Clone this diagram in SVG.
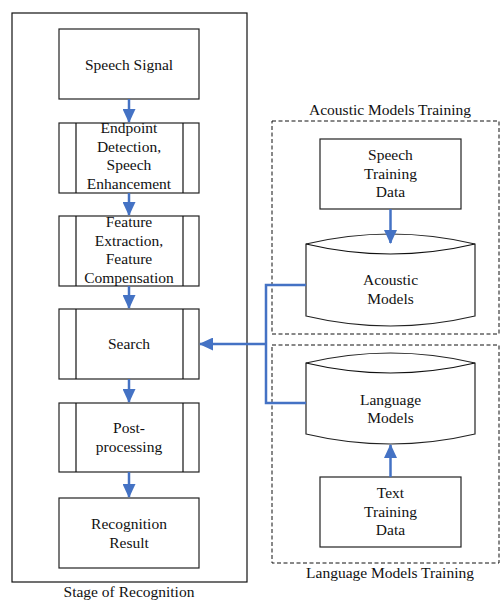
<svg xmlns="http://www.w3.org/2000/svg" width="501" height="600" viewBox="0 0 501 600" font-family="'Liberation Serif', 'DejaVu Serif', serif">
<defs>
<style>
text{font-family:'Liberation Serif','DejaVu Serif',serif;font-size:15.5px;fill:#111;text-anchor:middle}
.box{fill:#fff;stroke:#222;stroke-width:1.2}
.frame{fill:none;stroke:#111;stroke-width:1.2}
.dash{fill:none;stroke:#111;stroke-width:1;stroke-dasharray:4,2.5}
.conn{fill:none;stroke:#4472C4;stroke-width:2.5}
</style>
<marker id="ah" viewBox="0 0 14 13" refX="13" refY="6.5" markerWidth="14" markerHeight="13" markerUnits="userSpaceOnUse" orient="auto">
<path d="M0,0 L14,6.5 L0,13 Z" fill="#4472C4"/>
</marker>
</defs>
<rect x="0" y="0" width="501" height="600" fill="#fff"/>
<g id="stage">
<rect class="frame" x="12" y="13" width="235" height="569"/>
<text x="129" y="597">Stage of Recognition</text>
</g>
<g id="acoustic-training">
<rect class="dash" x="272" y="121" width="227" height="213"/>
<text x="390" y="115">Acoustic Models Training</text>
</g>
<g id="language-training">
<rect class="dash" x="272" y="345" width="227" height="218"/>
<text x="390" y="578">Language Models Training</text>
</g>
<g id="speech-signal">
<rect class="box" x="59" y="29" width="140" height="70"/>
<text x="129" y="70">Speech Signal</text>
</g>
<g id="endpoint">
<rect class="box" x="59" y="123" width="140" height="70"/>
<line class="frame" x1="76" y1="123" x2="76" y2="193"/>
<line class="frame" x1="183" y1="123" x2="183" y2="193"/>
<text x="129" y="133">Endpoint</text>
<text x="129" y="152">Detection,</text>
<text x="129" y="170">Speech</text>
<text x="129" y="189">Enhancement</text>
</g>
<g id="feature">
<rect class="box" x="59" y="216" width="140" height="70"/>
<line class="frame" x1="76" y1="216" x2="76" y2="286"/>
<line class="frame" x1="183" y1="216" x2="183" y2="286"/>
<text x="129" y="227">Feature</text>
<text x="129" y="246">Extraction,</text>
<text x="129" y="264">Feature</text>
<text x="129" y="283">Compensation</text>
</g>
<g id="search">
<rect class="box" x="59" y="309" width="140" height="70"/>
<line class="frame" x1="76" y1="309" x2="76" y2="379"/>
<line class="frame" x1="183" y1="309" x2="183" y2="379"/>
<text x="129" y="349">Search</text>
</g>
<g id="post">
<rect class="box" x="59" y="403" width="140" height="69"/>
<line class="frame" x1="76" y1="403" x2="76" y2="472"/>
<line class="frame" x1="183" y1="403" x2="183" y2="472"/>
<text x="129" y="433">Post-</text>
<text x="129" y="452">processing</text>
</g>
<g id="result">
<rect class="box" x="59" y="498" width="140" height="70"/>
<text x="129" y="529">Recognition</text>
<text x="129" y="548">Result</text>
</g>
<g id="speech-training-data">
<rect class="box" x="320" y="139" width="141" height="70"/>
<text x="390.5" y="160">Speech</text>
<text x="390.5" y="179">Training</text>
<text x="390.5" y="197">Data</text>
</g>
<g id="acoustic-models">
<path class="box" d="M306,244 Q390.5,224 475,244 L475,316 Q390.5,336 306,316 Z"/>
<path class="frame" d="M306,244 Q390.5,264 475,244"/>
<text x="390.5" y="285">Acoustic</text>
<text x="390.5" y="304">Models</text>
</g>
<g id="language-models">
<path class="box" d="M306,363 Q390.5,343 475,363 L475,434 Q390.5,454 306,434 Z"/>
<path class="frame" d="M306,363 Q390.5,383 475,363"/>
<text x="390.5" y="405">Language</text>
<text x="390.5" y="423">Models</text>
</g>
<g id="text-training-data">
<rect class="box" x="320" y="477" width="141" height="70"/>
<text x="390.5" y="498">Text</text>
<text x="390.5" y="517">Training</text>
<text x="390.5" y="535">Data</text>
</g>
<g id="connectors">
<line class="conn" x1="129" y1="99" x2="129" y2="122" marker-end="url(#ah)"/>
<line class="conn" x1="129" y1="193" x2="129" y2="215" marker-end="url(#ah)"/>
<line class="conn" x1="129" y1="286" x2="129" y2="308" marker-end="url(#ah)"/>
<line class="conn" x1="129" y1="379" x2="129" y2="402" marker-end="url(#ah)"/>
<line class="conn" x1="129" y1="472" x2="129" y2="497" marker-end="url(#ah)"/>
<line class="conn" x1="390.5" y1="209" x2="390.5" y2="243" marker-end="url(#ah)"/>
<line class="conn" x1="390.5" y1="477" x2="390.5" y2="445" marker-end="url(#ah)"/>
<path class="conn" d="M306,285 H266 V403 H306"/>
<line class="conn" x1="266" y1="344" x2="200" y2="344" marker-end="url(#ah)"/>
</g>
</svg>
